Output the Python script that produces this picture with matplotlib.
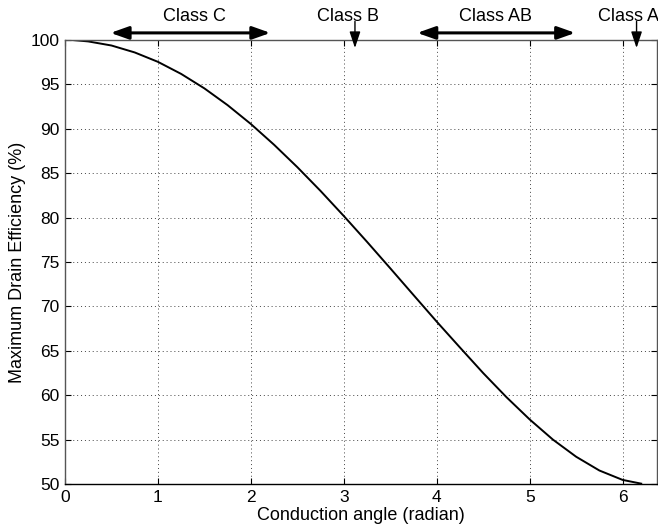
import numpy as np
import matplotlib.pyplot as plt

# curva: eficiencia maxima de drenador vs angulo de conduccion
angle = [0.1, 0.25, 0.5, 0.75, 1.0, 1.25, 1.5, 1.75, 2.0, 2.25, 2.5, 2.75,
         3.0, 3.25, 3.5, 3.75, 4.0, 4.25, 4.5, 4.75, 5.0, 5.25, 5.5, 5.75,
         6.0, 6.2]
efficiency = [99.98, 99.84, 99.38, 98.60, 97.54, 96.18, 94.55, 92.66, 90.54,
              88.20, 85.68, 83.00, 80.18, 77.27, 74.29, 71.28, 68.28, 65.37,
              62.49, 59.78, 57.27, 55.00, 53.07, 51.52, 50.46, 50.04]

xticks = [0, 1, 2, 3, 4, 5, 6]
yticks = [50, 55, 60, 65, 70, 75, 80, 85, 90, 95, 100]

# rangos de clase (flechas dobles) y marcas puntuales (flechas hacia abajo)
class_ranges = {'Class C': (0.49, 2.21), 'Class AB': (3.79, 5.49)}
class_range_label_x = {'Class C': 1.39, 'Class AB': 4.63}
class_points = {'Class B': 3.12, 'Class A': 6.15}
class_point_label_x = {'Class B': 3.04, 'Class A': 6.06}

plt.rcParams['font.family'] = ['Liberation Sans', 'DejaVu Sans']

fig = plt.figure(figsize=(6.58, 5.29), dpi=100)
ax = fig.add_axes([65 / 658, 45 / 529, 592 / 658, 444 / 529])

ax.plot(angle, efficiency, color='black', linewidth=1.4)

ax.set_xlim(0, 6.37)
ax.set_ylim(50, 100)
ax.set_xticks(xticks)
ax.set_yticks(yticks)
ax.tick_params(direction='in', length=4, width=0.8, top=True, right=True,
               labelsize=12.5, pad=4, colors='black')
ax.grid(True, color='#444444', linestyle=(0, (1, 3)), linewidth=0.7)
for side in ['left', 'top', 'right']:
    ax.spines[side].set_color('#555555')
ax.spines['bottom'].set_color('black')
for sp in ax.spines.values():
    sp.set_linewidth(1.0)

ax.set_xlabel('Conduction angle (radian)', fontsize=13, labelpad=2)
ax.set_ylabel('Maximum Drain Efficiency (%)', fontsize=13, labelpad=3)

for name, (x0, x1) in class_ranges.items():
    ax.annotate('', xy=(x1, 100.8), xytext=(x0, 100.8),
                annotation_clip=False,
                arrowprops=dict(arrowstyle='<|-|>,head_length=0.9,head_width=0.32',
                                color='black', lw=2.2, mutation_scale=12,
                                shrinkA=0, shrinkB=0))
    ax.text(class_range_label_x[name], 102.6, name, ha='center', va='center',
            fontsize=13, clip_on=False)

for name, x in class_points.items():
    ax.annotate('', xy=(x, 99.1), xytext=(x, 102.1),
                annotation_clip=False,
                arrowprops=dict(arrowstyle='-|>,head_length=0.9,head_width=0.3',
                                color='black', lw=1.0, mutation_scale=11,
                                shrinkA=0, shrinkB=0))
    ax.text(class_point_label_x[name], 102.6, name, ha='center', va='center',
            fontsize=13, clip_on=False)

fig.savefig('out.png', dpi=100)
